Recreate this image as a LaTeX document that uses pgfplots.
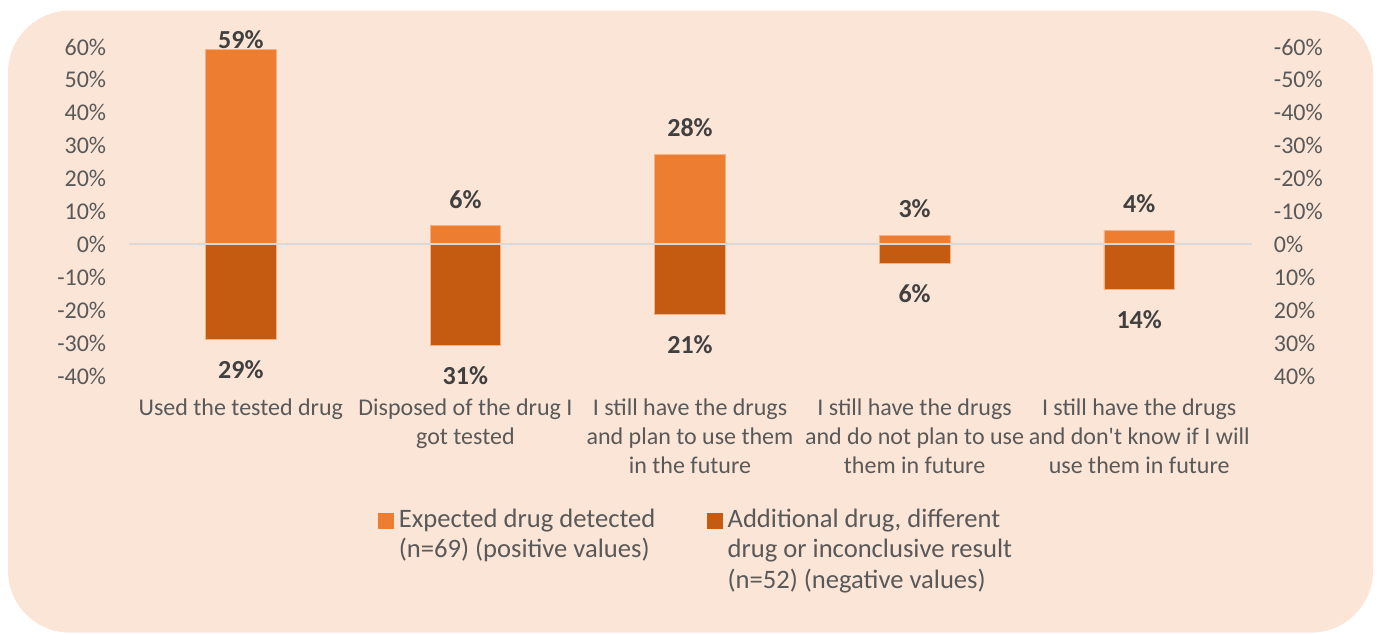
\documentclass[border=0pt]{standalone}
\usepackage{pgfplots}
\pgfplotsset{compat=1.18}
\usepackage{pgfplotstable}
\usepackage{fontspec}
\setmainfont{Carlito}[Ligatures=TeXOff]
\definecolor{bg}{HTML}{FBE5D6}
\definecolor{posc}{HTML}{ED7D31}
\definecolor{negc}{HTML}{C55A11}
\definecolor{txt}{HTML}{595959}
\definecolor{lbl}{HTML}{404040}
\definecolor{zeroc}{HTML}{D9D9D9}
\definecolor{edge}{HTML}{F4B183}

\pgfplotstableread{
x y lbl dy
0 59.3 59 4.6
1 5.65 6 13.2
2 27.4 28 13.2
3 2.8 3 13.2
4 4.3 4 13.2
}\posdata
\pgfplotstableread{
x y lbl dy
0 -28.9 29 -15.2
1 -30.8 31 -15.2
2 -21.2 21 -15.2
3 -5.8 6 -15.2
4 -13.7 14 -15.2
}\negdata

\begin{document}
\begin{tikzpicture}
\fill[bg, rounded corners=31pt] (4pt,0.2pt) rectangle (686.5pt,311.2pt);
\useasboundingbox (0,0) rectangle (689.5pt,316.5pt);
\begin{axis}[
  at={(64.25pt,128.5pt)}, anchor=south west,
  scale only axis, width=561.5pt, height=164.5pt,
  xmin=-0.5, xmax=4.5, ymin=-40, ymax=60,
  axis line style={draw=none}, major tick length=0pt, tick style={draw=none},
  xtick={0,1,2,3,4},
  xticklabels={{Used the tested drug},{Disposed of the drug I\\got tested},{I still have the drugs\\and plan to use them\\in the future},{I still have the drugs\\and do not plan to use\\them in future},{I still have the drugs\\and don't know if I will\\use them in future}},
  xticklabel style={anchor=north, align=center, inner sep=0pt, yshift=-11pt, font=\fontsize{12}{14.5}\selectfont, text=txt},
  ytick={-40,-30,...,60},
  yticklabels={-40\%,-30\%,-20\%,-10\%,0\%,10\%,20\%,30\%,40\%,50\%,60\%},
  yticklabel style={anchor=east, inner sep=0pt, xshift=-11pt, font=\fontsize{12}{14.5}\selectfont, text=txt},
  clip=false,
  legend columns=2,
  legend style={at={(axis description cs:0.22217,-0.39477)}, anchor=north west, draw=none, fill=none, inner sep=0pt, outer sep=0pt, font=\fontsize{13.3}{15.3}\selectfont, text=txt, cells={anchor=base west}, nodes={inner sep=0pt, text depth=}, column sep=0pt, row sep=0pt},
]
\addplot[ybar, bar width=35.3pt, bar shift=0pt, fill=posc, draw=edge, line width=0.4pt,
  point meta=explicit symbolic,
  nodes near coords={\pgfplotspointmeta\%},
  nodes near coords align={center},
  visualization depends on={\thisrow{dy} \as \dy},
  every node near coord/.append style={anchor=center, yshift=\dy, font=\fontsize{13}{15}\selectfont\bfseries, text=lbl, inner sep=0pt},
  legend image code/.code={\fill[posc] (0pt,-0.35pt) rectangle (7.5pt,7.15pt); \path (10pt,0pt);}
] table[x=x, y=y, meta=lbl] {\posdata};
\addlegendentry{\makebox[154pt][l]{\begin{tabular}[t]{@{}l@{}}Expected drug detected\\(n=69) (positive values)\end{tabular}}}
\addplot[ybar, bar width=35.3pt, bar shift=0pt, fill=negc, draw=edge, line width=0.4pt,
  point meta=explicit symbolic,
  nodes near coords={\pgfplotspointmeta\%},
  nodes near coords align={center},
  visualization depends on={\thisrow{dy} \as \dy},
  every node near coord/.append style={anchor=center, yshift=\dy, font=\fontsize{13}{15}\selectfont\bfseries, text=lbl, inner sep=0pt},
  legend image code/.code={\fill[negc] (0pt,-0.35pt) rectangle (7.5pt,7.15pt); \path (10pt,0pt);}
] table[x=x, y=y, meta=lbl] {\negdata};
\addlegendentry{\begin{tabular}[t]{@{}l@{}}Additional drug, different\\drug or inconclusive result\\(n=52) (negative values)\end{tabular}}
\addplot[zeroc, line width=1pt, forget plot] coordinates {(-0.5,0) (4.5,0)};
\end{axis}
\begin{axis}[
  at={(64.25pt,128.5pt)}, anchor=south west,
  scale only axis, width=561.5pt, height=164.5pt,
  xmin=-0.5, xmax=4.5, ymin=-40, ymax=60,
  hide x axis,
  axis line style={draw=none}, major tick length=0pt, tick style={draw=none},
  yticklabel pos=right,
  ytick={-40,-30,...,60},
  yticklabels={40\%,30\%,20\%,10\%,0\%,-10\%,-20\%,-30\%,-40\%,-50\%,-60\%},
  yticklabel style={anchor=west, inner sep=0pt, xshift=11pt, font=\fontsize{12}{14.5}\selectfont, text=txt},
]
\end{axis}
\end{tikzpicture}
\end{document}
